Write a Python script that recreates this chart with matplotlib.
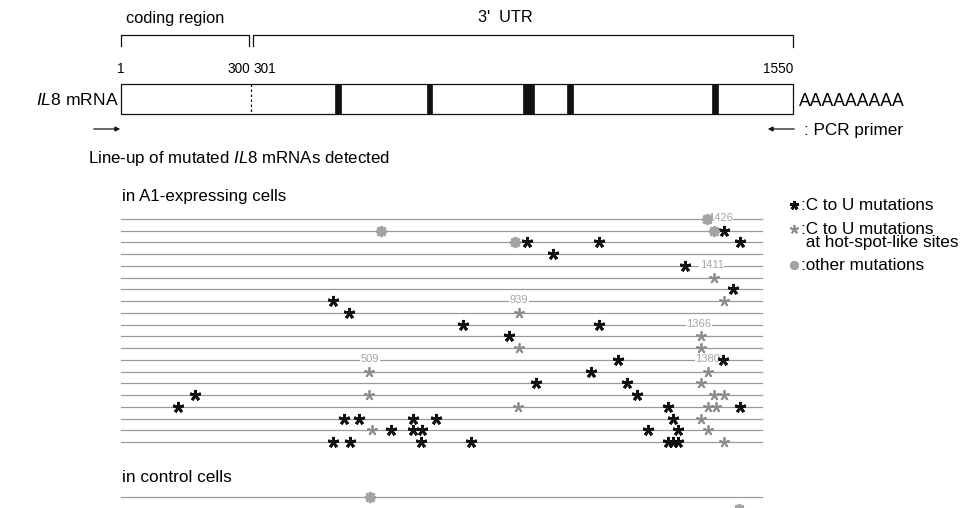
import matplotlib
matplotlib.use("Agg")
import matplotlib.pyplot as plt
from matplotlib.patches import Rectangle

plt.rcParams['font.family'] = ['Liberation Sans', 'DejaVu Sans']
plt.rcParams['mathtext.fontset'] = 'custom'
plt.rcParams['mathtext.rm'] = 'Liberation Sans'
plt.rcParams['mathtext.it'] = 'Liberation Sans:italic'

# transcript coordinates (nt)
mrna_len = 1550
coding_end = 300
lineup_end = 1479
# dark elements in the 3' UTR (start nt, width nt)
elem_start = [495, 706, 927, 1030, 1363]
elem_width = [12, 13, 27, 14, 13]

# mutations per clone in A1-expressing cells (nt positions)
ctou = [[], [1391], [937, 1102, 1427], [997], [1300], [], [1412], [489], [526],
        [789, 1102], [895], [], [1146, 1389], [1084], [958, 1167], [172, 1190],
        [132, 1262, 1427], [515, 550, 674, 728, 1273],
        [623, 674, 695, 1216, 1286], [489, 529, 692, 808, 1262, 1273, 1286]]
hotspot = [[], [], [], [], [], [1369], [], [1391], [918], [], [1337],
           [918, 1337], [], [573, 1355], [1337], [573, 1369, 1391],
           [916, 1355, 1373], [1337], [580, 1355], [1391]]
other = [[1351], [600, 1369], [909], [], [], [], [], [], [], [], [], [], [],
         [], [], [], [], [], [], []]
# hot-spot labels: (row, position, text)
site_rows = [0, 4, 7, 9, 12, 12]
site_pos = [1382, 1363, 918, 1333, 575, 1354]
site_text = ['1426', '1411', '939', '1366', '509', '1380']

# control cells
ctrl_other = [[575], [1425]]

fig = plt.figure(figsize=(9.6, 5.08), dpi=100)
lay = fig.add_axes([0, 0, 1, 1])
lay.set_xlim(0, 960)
lay.set_ylim(508, 0)
lay.axis('off')

# data axes: x in nt, aligned so nt 1 -> px 121 and nt 1550 -> px 793
k = (mrna_len - 1) / (793 - 121)
ax = fig.add_axes([0, 0, 1, 1])
ax.set_xlim(1 - 121 * k, 1 + (960 - 121) * k)
ax.set_ylim(508, 0)
ax.axis('off')
ax.patch.set_alpha(0)

ink = '#111111'
gray_line = '#9a9a9a'
hot_col = '#8c8c8c'
oth_col = '#a3a3a3'

def star(a, x, y, kind, ms=None):
    if kind == 'ctou':
        a.plot(x, y, marker=(5, 2, 0), ls='none', color=ink, ms=ms or 8, mew=2.0, zorder=5)
    elif kind == 'hot':
        a.plot(x, y, marker=(5, 2, 0), ls='none', color=hot_col, ms=ms or 7.5, mew=1.3, zorder=5)
    else:
        a.plot(x, y, marker=(8, 2, 0), ls='none', color=oth_col, ms=ms or 8, mew=2.0, zorder=5)
        a.plot(x, y, marker='o', ls='none', color=oth_col, ms=(ms or 8) * 0.4, mew=0, zorder=5)

# ---- schematic ----
lay.text(126, 18, 'coding region', fontsize=11.8, va='center', ha='left')
lay.text(505, 18, "3'  UTR", fontsize=11.8, va='center', ha='center')
ax.plot([1, 1, coding_end - 5, coding_end - 5], [46, 35, 35, 46], color=ink, lw=0.9)
ax.plot([coding_end + 5, coding_end + 5, mrna_len, mrna_len], [46, 35, 35, 47], color=ink, lw=0.9)
ax.text(1, 69, '1', fontsize=9.8, ha='center', va='center')
ax.text(coding_end - 1, 69, '300', fontsize=9.8, ha='right', va='center')
ax.text(coding_end + 6, 69, '301', fontsize=9.8, ha='left', va='center')
ax.text(mrna_len, 69, '1550', fontsize=9.8, ha='right', va='center')
ax.add_patch(Rectangle((1, 84), mrna_len - 1, 30, fill=False, ec=ink, lw=0.9))
ax.plot([coding_end + 0.5] * 2, [84, 114], color=ink, lw=0.9, ls=(0, (2, 2)))
for s, w in zip(elem_start, elem_width):
    ax.add_patch(Rectangle((s, 84), w, 30, fc=ink, ec=ink, lw=0.5))
lay.text(36, 100, r'$\it{IL8}$ mRNA', fontsize=12.6, va='center', ha='left')
lay.text(799, 101, 'AAAAAAAAA', fontsize=12.7, va='center', ha='left')
lay.annotate('', xy=(123, 129), xytext=(91, 129),
             arrowprops=dict(arrowstyle='-|>', color=ink, lw=0.9, mutation_scale=7))
lay.annotate('', xy=(765, 129), xytext=(797, 129),
             arrowprops=dict(arrowstyle='-|>', color=ink, lw=0.9, mutation_scale=7))
lay.text(804, 130, ': PCR primer', fontsize=12.3, va='center', ha='left')

lay.text(88, 158, r'Line-up of mutated $\it{IL8}$ mRNAs detected', fontsize=12.2, va='center')
lay.text(122, 197, 'in A1-expressing cells', fontsize=12.2, va='center')
lay.text(122, 477, 'in control cells', fontsize=12.4, va='center')

# ---- line-up ----
row0, step = 219, 11.74
for i in range(len(ctou)):
    y = row0 + i * step
    ax.plot([1, lineup_end], [y, y], color=gray_line, lw=0.9, zorder=1)
    for p in ctou[i]:
        star(ax, p, y, 'ctou')
    for p in hotspot[i]:
        star(ax, p, y, 'hot')
    for p in other[i]:
        star(ax, p, y, 'other')
for r, p, t in zip(site_rows, site_pos, site_text):
    ax.text(p, row0 + r * step - 1, t, fontsize=8, color='#a5a5a5', ha='center', va='center',
            zorder=4, bbox=dict(fc='white', ec='none', pad=0.3))

ctrl0 = 497
for i, pos in enumerate(ctrl_other):
    y = ctrl0 + i * step
    ax.plot([1, lineup_end], [y, y], color=gray_line, lw=0.9, zorder=1)
    for p in pos:
        star(ax, p, y, 'other')

# ---- legend ----
star(lay, 794, 205, 'ctou', ms=6.5)
lay.text(801, 205, ':C to U mutations', fontsize=12.3, va='center')
star(lay, 794, 229, 'hot', ms=6.5)
lay.text(801, 222, ':C to U mutations\n at hot-spot-like sites', fontsize=12.3,
         va='top', linespacing=0.8)
star(lay, 794, 265, 'other', ms=6.5)
lay.text(801, 265, ':other mutations', fontsize=12.3, va='center')

fig.savefig('out.png', dpi=100)
